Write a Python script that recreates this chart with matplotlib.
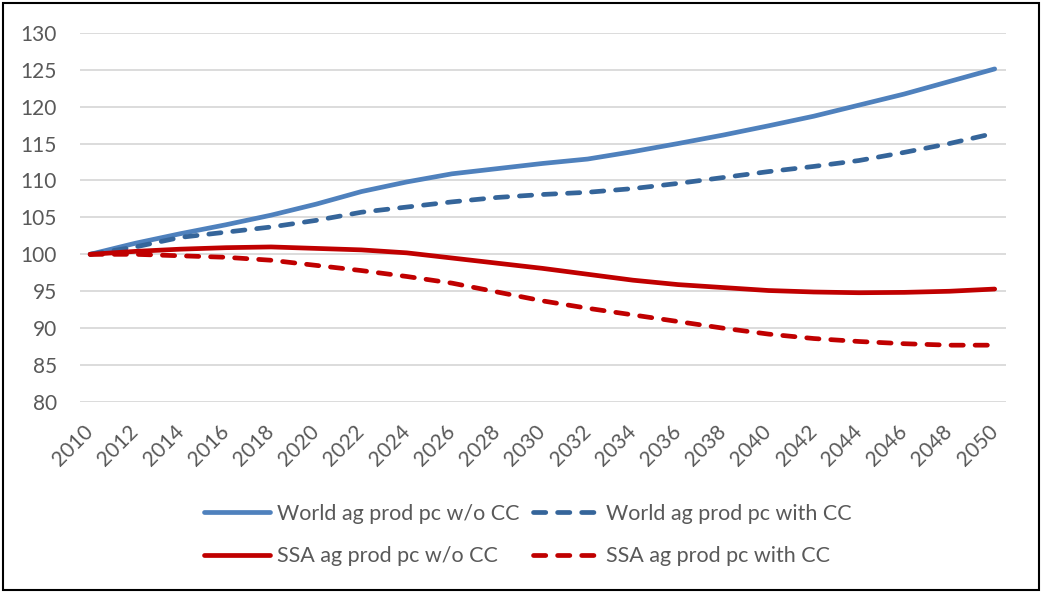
import matplotlib
matplotlib.use("Agg")
import matplotlib.pyplot as plt
from matplotlib.patches import Rectangle

years = list(range(2010, 2051, 2))
world_no_cc = [100.0, 101.5, 102.8, 104.0, 105.3, 106.8, 108.5, 109.8, 110.9, 111.6, 112.3,
               112.9, 113.9, 115.0, 116.15, 117.4, 118.7, 120.2, 121.7, 123.4, 125.1]
world_cc = [100.0, 101.0, 102.3, 103.0, 103.7, 104.6, 105.7, 106.4, 107.1, 107.7, 108.1,
            108.4, 108.9, 109.6, 110.4, 111.2, 111.9, 112.7, 113.8, 115.0, 116.4]
ssa_no_cc = [100.0, 100.4, 100.7, 100.9, 101.0, 100.8, 100.6, 100.2, 99.5, 98.8, 98.1,
             97.3, 96.5, 95.9, 95.5, 95.1, 94.9, 94.8, 94.85, 95.0, 95.3]
ssa_cc = [100.0, 100.0, 99.8, 99.6, 99.2, 98.5, 97.8, 97.0, 96.1, 94.9, 93.7,
          92.7, 91.8, 90.9, 90.0, 89.2, 88.6, 88.2, 87.9, 87.7, 87.7]
labels = ["World ag prod pc w/o CC", "World ag prod pc with CC",
          "SSA ag prod pc w/o CC", "SSA ag prod pc with CC"]

plt.rcParams["font.family"] = ["Lato", "DejaVu Sans"]

fig = plt.figure(figsize=(10.43, 5.93), dpi=100)
ax = fig.add_axes([0.0767, 0.322, 0.8878, 0.6228])

lw = 3.4
kw = dict(lw=lw, solid_capstyle="round", dash_capstyle="round")
dash = (0, (2.6, 2.5))
l1, = ax.plot(years, world_no_cc, color="#4F81BD", **kw)
l2, = ax.plot(years, world_cc, color="#35659A", ls=dash, **kw)
l3, = ax.plot(years, ssa_no_cc, color="#C00000", **kw)
l4, = ax.plot(years, ssa_cc, color="#C00000", ls=dash, **kw)

ax.set_ylim(80, 130)
ax.set_yticks(range(80, 131, 5))
ax.set_xlim(2009.55, 2050.5)
ax.set_xticks(years)
ax.set_xticklabels([str(y) for y in years], rotation=45, ha="right", va="center",
                   rotation_mode="anchor")
ax.grid(axis="y", color="#D9D9D9", lw=1.3)
ax.set_axisbelow(True)
for s in ax.spines.values():
    s.set_visible(False)
ax.tick_params(axis="both", length=0, labelsize=15, labelcolor="#595959")
ax.tick_params(axis="y", pad=16.5)
ax.tick_params(axis="x", pad=19)

# row-major order like the original: matplotlib fills legend columns first
leg = fig.legend([l1, l3, l2, l4], [labels[0], labels[2], labels[1], labels[3]],
                 ncol=2, loc="center", bbox_to_anchor=(0.506, 0.098), frameon=False,
                 prop={"family": ["Liberation Sans Narrow", "Lato"], "size": 15.5},
                 labelcolor="#595959", handlelength=3.1, handletextpad=0.3,
                 columnspacing=0.65, labelspacing=1.05)

fig.patches.append(Rectangle((0.003, 0.005), 0.993, 0.99, transform=fig.transFigure,
                             fill=False, edgecolor="black", lw=1.5))

fig.savefig("out.png", dpi=100)
